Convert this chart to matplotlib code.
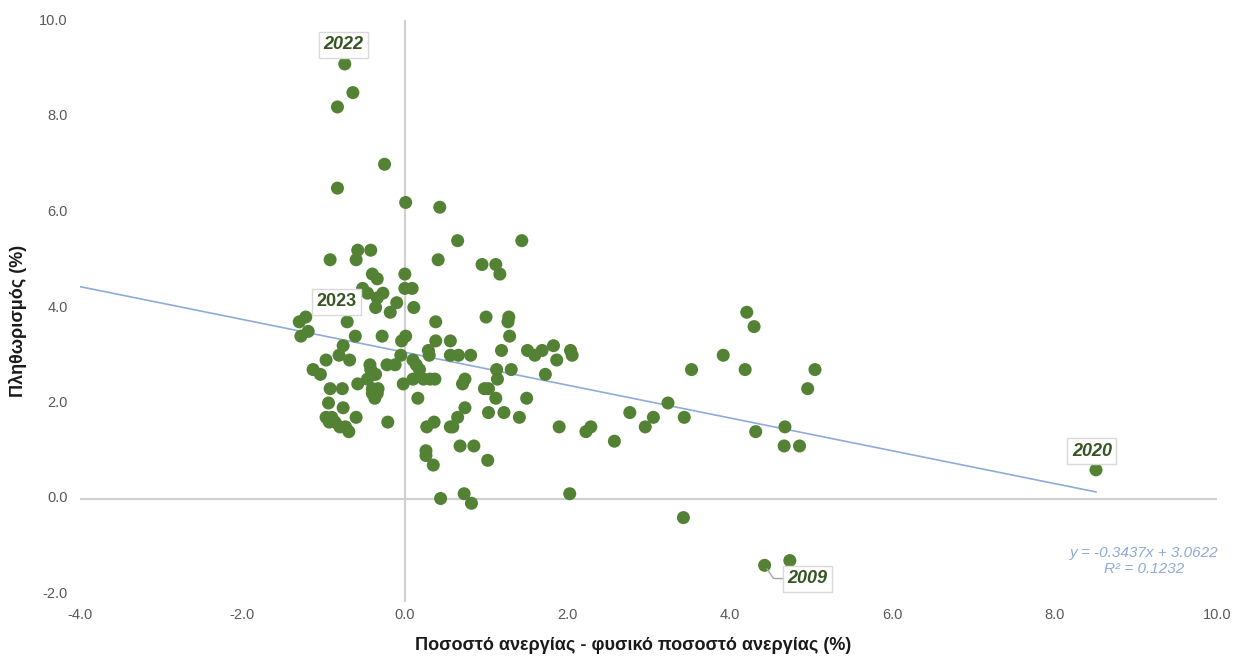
"""
Phillips-curve style scatter: inflation vs. unemployment gap,
with a linear trendline and a few labelled years.
"""

import matplotlib.pyplot as plt
import numpy as np

plt.rcParams["font.family"] = ["Liberation Sans", "DejaVu Sans"]

# unemployment gap (%)
gap = [
    -0.74, -0.64, -0.83, -0.25, -0.83, 0.01, 0.43, 0.65, 1.44, -0.58,
    -0.42, -0.92, -0.60, 0.41, 0.95, 1.12, 1.17, -0.40, 0.00, -0.34,
    0.00, 0.09, -0.52, -0.46, -0.27, -0.34, -0.10, -0.36, 0.11, -0.18,
    -1.30, -1.22, -0.71, 0.38, -1.19, -1.28, -0.61, -0.28, 0.01, 0.38,
    0.56, -0.04, -0.76, -0.81, -0.05, 0.29, 0.30, 0.56, 0.66, 0.81,
    1.19, 1.51, 1.60, 1.69, 1.83, 2.04, 2.06, 1.28, 1.27, 1.00,
    1.29, -0.97, -0.68, -1.13, -1.04, -0.43, -0.42, -0.40, -0.36, -0.22,
    -0.12, 0.10, 0.14, 0.18, -0.46, -0.02, 0.10, 0.23, 0.31, 0.37,
    -0.58, 1.13, 1.31, 1.14, 1.73, 1.87, 0.71, 0.74, -0.92, -0.77,
    -0.40, -0.33, -0.40, -0.34, -0.37, -0.94, -0.76, 0.98, 1.03, 1.12,
    1.50, 0.16, 0.74, 1.03, 1.22, 1.41, 1.90, 0.65, 0.56, 0.59,
    0.27, 0.36, -0.21, -0.60, -0.97, -0.90, -0.93, -0.86, -0.80, -0.73,
    -0.69, 0.68, 0.85, 0.26, 0.26, 0.35, 1.02, 0.44, 0.73, 0.82,
    2.03, 3.53, 3.24, 2.77, 3.06, 2.96, 3.44, 2.58, 2.23, 2.29,
    3.43, 4.21, 4.30, 3.92, 4.19, 5.05, 4.96, 4.68, 4.32, 4.67,
    4.86, 8.51, 4.43, 4.74,
]

# inflation (%)
inflation = [
    9.1, 8.5, 8.2, 7.0, 6.5, 6.2, 6.1, 5.4, 5.4, 5.2,
    5.2, 5.0, 5.0, 5.0, 4.9, 4.9, 4.7, 4.7, 4.7, 4.6,
    4.4, 4.4, 4.4, 4.3, 4.3, 4.2, 4.1, 4.0, 4.0, 3.9,
    3.7, 3.8, 3.7, 3.7, 3.5, 3.4, 3.4, 3.4, 3.4, 3.3,
    3.3, 3.3, 3.2, 3.0, 3.0, 3.1, 3.0, 3.0, 3.0, 3.0,
    3.1, 3.1, 3.0, 3.1, 3.2, 3.1, 3.0, 3.8, 3.7, 3.8,
    3.4, 2.9, 2.9, 2.7, 2.6, 2.8, 2.7, 2.6, 2.6, 2.8,
    2.8, 2.9, 2.8, 2.7, 2.5, 2.4, 2.5, 2.5, 2.5, 2.5,
    2.4, 2.7, 2.7, 2.5, 2.6, 2.9, 2.4, 2.5, 2.3, 2.3,
    2.3, 2.3, 2.2, 2.2, 2.1, 2.0, 1.9, 2.3, 2.3, 2.1,
    2.1, 2.1, 1.9, 1.8, 1.8, 1.7, 1.5, 1.7, 1.5, 1.5,
    1.5, 1.6, 1.6, 1.7, 1.7, 1.7, 1.6, 1.6, 1.5, 1.5,
    1.4, 1.1, 1.1, 1.0, 0.9, 0.7, 0.8, 0.0, 0.1, -0.1,
    0.1, 2.7, 2.0, 1.8, 1.7, 1.5, 1.7, 1.2, 1.4, 1.5,
    -0.4, 3.9, 3.6, 3.0, 2.7, 2.7, 2.3, 1.5, 1.4, 1.1,
    1.1, 0.6, -1.4, -1.3,
]

# labelled years: (year, gap, inflation)
label_years = ["2022", "2023", "2020", "2009"]
label_gap = [-0.74, -1.22, 8.51, 4.43]
label_infl = [9.1, 3.8, 0.6, -1.4]

# trendline as printed on the chart
trend_slope = -0.3437
trend_intercept = 3.0622
trend_r2 = 0.1232

x_ticks = [-4.0, -2.0, 0.0, 2.0, 4.0, 6.0, 8.0, 10.0]
y_ticks = [-2.0, 0.0, 2.0, 4.0, 6.0, 8.0, 10.0]

GREEN = "#548235"
LABEL_GREEN = "#375623"
TREND = "#8faadc"
AXIS_GRAY = "#d0d0d0"
TICK_GRAY = "#595959"

fig = plt.figure(figsize=(12.41, 6.56), dpi=100)
ax = fig.add_axes([80 / 1241, 1 - 594 / 656, (1217 - 80) / 1241, (594 - 21) / 656])
ax.set_xlim(x_ticks[0], x_ticks[-1])
ax.set_ylim(y_ticks[0], y_ticks[-1])
for s in ax.spines.values():
    s.set_visible(False)
ax.set_xticks([])
ax.set_yticks([])

# zero lines act as the axes
ax.axhline(0, color=AXIS_GRAY, lw=1.5, zorder=1)
ax.plot([0, 0], [y_ticks[0] - 0.15, y_ticks[-1]], color=AXIS_GRAY, lw=1.5,
        zorder=1, clip_on=False)

# trendline, backward-extended to the axis minimum
xt = np.array([x_ticks[0], max(gap)])
ax.plot(xt, trend_slope * xt + trend_intercept, color=TREND, lw=1.2, zorder=2)

ax.scatter(gap, inflation, s=88, color=GREEN, edgecolors="none", zorder=3)

# tick labels sit at the low end, like an Excel chart
for t in y_ticks:
    ax.annotate(f"{t:.1f}", (x_ticks[0], t), xytext=(-9, 0), textcoords="offset points",
                ha="right", va="center", fontsize=10.5, color=TICK_GRAY,
                annotation_clip=False)
for t in x_ticks:
    ax.annotate(f"{t:.1f}", (t, y_ticks[0]), xytext=(0, -15), textcoords="offset points",
                ha="center", va="center", fontsize=10.5, color=TICK_GRAY,
                annotation_clip=False)

box = dict(boxstyle="square,pad=0.25", fc="white", ec="#d9d9d9", lw=1)
offsets = [(-1, 14), (22, 11), (-3, 13.5), (31, -9.5)]
for yr, gx, iy, off in zip(label_years, label_gap, label_infl, offsets):
    style = "normal" if yr == "2023" else "italic"
    arrow = None
    if yr == "2009":
        # elbow leader: flat into the box, then up-left to the point
        arrow = dict(arrowstyle="-", color="#a6a6a6", lw=1,
                     connectionstyle="angle,angleA=0,angleB=-56,rad=0",
                     shrinkA=0, shrinkB=3)
    ax.annotate(yr, (gx, iy), xytext=off, textcoords="offset points",
                ha="center", va="center", fontsize=13, fontweight="bold",
                fontstyle=style, color=LABEL_GREEN, bbox=box,
                arrowprops=arrow, zorder=4)

fig.text(1218 / 1241, 1 - 561 / 656,
         f"y = {trend_slope:.4f}x + {trend_intercept:.4f}\nR² = {trend_r2:.4f}",
         ha="right", va="center", multialignment="center", fontsize=11,
         fontstyle="italic", color=TREND, linespacing=1.1)

fig.text(633 / 1241, 1 - 645 / 656, "Ποσοστό ανεργίας - φυσικό ποσοστό ανεργίας (%)",
         ha="center", va="center", fontsize=13, fontweight="bold", color="#1a1a1a")
fig.text(18 / 1241, 1 - 321 / 656, "Πληθωρισμός (%)", rotation=90,
         ha="center", va="center", fontsize=13, fontweight="bold", color="#1a1a1a")

fig.savefig("out.png", dpi=100)
